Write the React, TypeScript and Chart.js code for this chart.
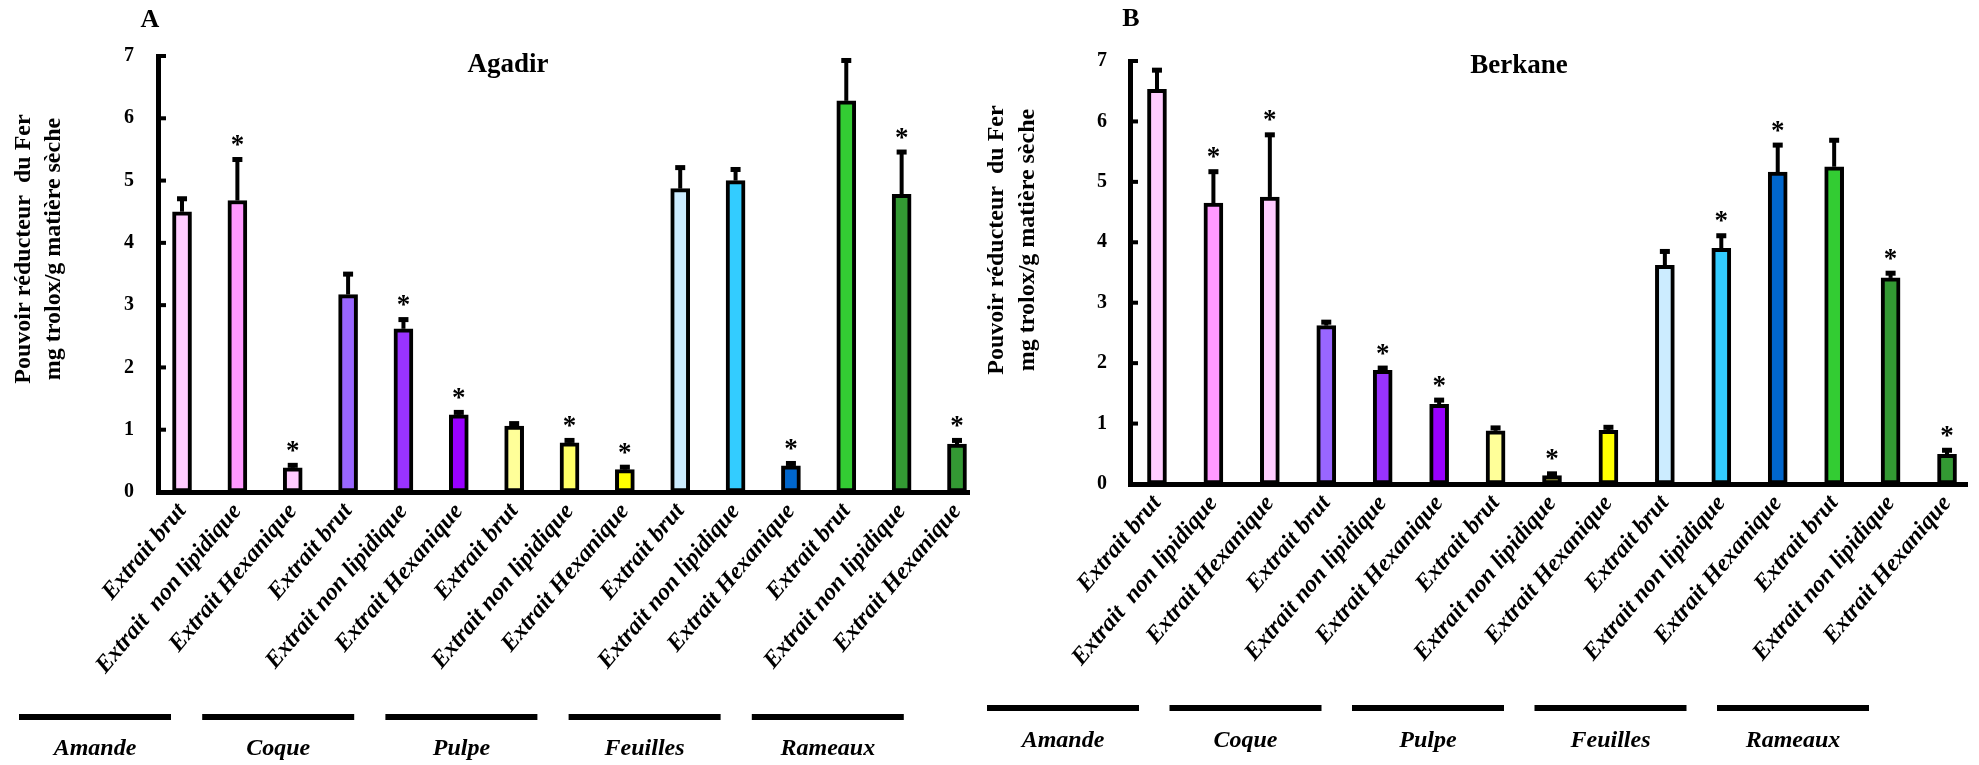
import React, { useEffect, useRef } from 'react';
import { Chart, registerables } from 'chart.js';

Chart.register(...registerables);

// ---------- data ----------
const categories = [
  'Extrait brut', 'Extrait  non lipidique', 'Extrait Hexanique',
  'Extrait brut', 'Extrait non lipidique', 'Extrait Hexanique',
  'Extrait brut', 'Extrait non lipidique', 'Extrait Hexanique',
  'Extrait brut', 'Extrait non lipidique', 'Extrait Hexanique',
  'Extrait brut', 'Extrait non lipidique', 'Extrait Hexanique',
];
const groups = ['Amande', 'Coque', 'Pulpe', 'Feuilles', 'Rameaux'];
const yTicks = [0, 1, 2, 3, 4, 5, 6, 7];

const agadirValues = [4.5, 4.68, 0.39, 3.17, 2.62, 1.24, 1.06, 0.79, 0.36, 4.87, 5.0, 0.42, 6.28, 4.78, 0.77];
const agadirErrors = [0.2, 0.65, 0.03, 0.32, 0.14, 0.03, 0.03, 0.03, 0.03, 0.33, 0.17, 0.03, 0.64, 0.67, 0.05];
const agadirSignificant = [0, 1, 1, 0, 1, 1, 0, 1, 1, 0, 0, 1, 0, 1, 1];

const berkaneValues = [6.53, 4.65, 4.75, 2.62, 1.88, 1.32, 0.88, 0.14, 0.89, 3.62, 3.9, 5.16, 5.25, 3.41, 0.49];
const berkaneErrors = [0.31, 0.51, 1.02, 0.05, 0.03, 0.06, 0.04, 0.02, 0.04, 0.22, 0.2, 0.44, 0.43, 0.07, 0.06];
const berkaneSignificant = [0, 1, 1, 0, 1, 1, 0, 1, 0, 0, 1, 1, 0, 1, 1];

const agadirColors = ['#FFCCFF', '#FF99FF', '#FFCCFF', '#9966FF', '#9933FF', '#9900FF', '#FFFF99', '#FFFF66', '#FFFF00', '#CCECFF', '#33CCFF', '#0066CC', '#33CC33', '#339933', '#339933'];
const berkaneColors = ['#FFCCFF', '#FF99FF', '#FFCCFF', '#9966FF', '#9933FF', '#9900FF', '#FFFF99', '#9A9A3A', '#FFFF00', '#CCECFF', '#33CCFF', '#0066CC', '#33CC33', '#339933', '#339933'];

const yTitle = ['Pouvoir réducteur  du Fer', 'mg trolox/g matière sèche'];

const SERIF = '"Liberation Serif", "Times New Roman", serif';

type Panel = {
  letter: string;
  title: string;
  values: number[];
  errors: number[];
  sig: number[];
  colors: string[];
  width: number;
  left: number;
  right: number;
  top: number;
  bottom: number;
  xMin: number;
  xMax: number;
  tickPad: number;
  titleX: number;
  titleY: number;
  letterX: number;
  letterY: number;
  yTitleX: [number, number];
  yTitleY: number;
  groupStart: number;
  groupStep: number;
  lineY: number;
  labelY: number;
};

const H = 765;

const panelA: Panel = {
  letter: 'A', title: 'Agadir',
  values: agadirValues, errors: agadirErrors, sig: agadirSignificant, colors: agadirColors,
  width: 975, left: 158, right: 969, top: 56, bottom: 492,
  xMin: -0.434, xMax: 14.217, tickPad: 24,
  titleX: 508, titleY: 65, letterX: 150, letterY: 20,
  yTitleX: [24, 54], yTitleY: 249,
  groupStart: 95, groupStep: 183.2, lineY: 717, labelY: 749,
};

const panelB: Panel = {
  letter: 'B', title: 'Berkane',
  values: berkaneValues, errors: berkaneErrors, sig: berkaneSignificant, colors: berkaneColors,
  width: 1004, left: 155, right: 992, top: 61, bottom: 484,
  xMin: -0.478, xMax: 14.354, tickPad: 23,
  titleX: 544, titleY: 66, letterX: 156, letterY: 19,
  yTitleX: [22, 53], yTitleY: 240,
  groupStart: 88, groupStep: 182.5, lineY: 708, labelY: 741,
};

function makeChart(canvas: HTMLCanvasElement, p: Panel) {
  const decor = {
    id: 'decor',
    afterDatasetsDraw(chart: any) {
      const ctx: CanvasRenderingContext2D = chart.ctx;
      const y = chart.scales.y;
      const area = chart.chartArea;
      const meta = chart.getDatasetMeta(0);
      ctx.save();
      ctx.fillStyle = '#000';
      ctx.strokeStyle = '#000';
      // error bars + significance stars
      meta.data.forEach((bar: any, i: number) => {
        const v = p.values[i];
        const e = p.errors[i];
        const yb = y.getPixelForValue(v);
        const yt = y.getPixelForValue(v + e);
        ctx.lineWidth = 4;
        ctx.beginPath();
        ctx.moveTo(bar.x, yb);
        ctx.lineTo(bar.x, yt - 1);
        ctx.stroke();
        ctx.fillRect(bar.x - 5, yt - 3, 10, 5);
        if (p.sig[i]) {
          ctx.font = `bold 27px ${SERIF}`;
          ctx.textAlign = 'center';
          ctx.textBaseline = 'alphabetic';
          ctx.fillText('*', bar.x, yt - 7);
        }
      });
      // inward y ticks
      yTicks.forEach((t) => {
        if (t === 0) return;
        const py = y.getPixelForValue(t);
        ctx.fillRect(area.left, py - 2, 8, 4);
      });
      ctx.restore();
    },
    afterDraw(chart: any) {
      const ctx: CanvasRenderingContext2D = chart.ctx;
      ctx.save();
      ctx.fillStyle = '#000';
      // panel letter
      ctx.font = `bold 26px ${SERIF}`;
      ctx.textAlign = 'center';
      ctx.textBaseline = 'middle';
      ctx.fillText(p.letter, p.letterX, p.letterY);
      // title
      ctx.font = `bold 27px ${SERIF}`;
      ctx.fillText(p.title, p.titleX, p.titleY);
      // y title
      ctx.font = `bold 24px ${SERIF}`;
      yTitle.forEach((line, k) => {
        ctx.save();
        ctx.translate(p.yTitleX[k], p.yTitleY);
        ctx.rotate(-Math.PI / 2);
        ctx.fillText(line, 0, 0);
        ctx.restore();
      });
      // group underline + names
      ctx.font = `italic bold 24px ${SERIF}`;
      groups.forEach((g, k) => {
        const cx = p.groupStart + k * p.groupStep;
        ctx.fillRect(cx - 76, p.lineY - 3, 152, 6);
        ctx.fillText(g, cx, p.labelY);
      });
      ctx.restore();
    },
  };

  return new Chart(canvas, {
    type: 'bar',
    data: {
      datasets: [
        {
          data: p.values.map((v, i) => ({ x: i, y: v })),
          backgroundColor: p.colors,
          borderColor: '#000',
          borderWidth: 4,
          borderSkipped: false,
          barThickness: 19,
        } as any,
      ],
    },
    options: {
      animation: false,
      responsive: false,
      events: [],
      layout: { padding: { left: 0, right: p.width - p.right, top: p.top, bottom: 0 } },
      scales: {
        x: {
          type: 'linear',
          min: p.xMin,
          max: p.xMax,
          offset: false,
          grid: { display: false, drawTicks: false, offset: false },
          border: { display: true, color: '#000', width: 5 },
          afterBuildTicks: (ax: any) => {
            ax.ticks = categories.map((_, i) => ({ value: i }));
          },
          afterFit: (s: any) => {
            s.height = H - p.bottom;
            s.paddingLeft = 0;
            s.paddingRight = 0;
          },
          ticks: {
            autoSkip: false,
            minRotation: 50,
            maxRotation: 50,
            padding: 6,
            color: '#000',
            font: { family: SERIF, size: 24, weight: 'bold', style: 'italic' },
            callback: (v: any) => categories[Math.round(Number(v))] ?? '',
          },
        } as any,
        y: {
          min: 0,
          max: 7,
          grid: { display: false, drawTicks: false },
          border: { display: true, color: '#000', width: 5 },
          afterBuildTicks: (ax: any) => {
            ax.ticks = yTicks.map((t) => ({ value: t }));
          },
          afterFit: (s: any) => {
            s.width = p.left;
            s.paddingTop = 0;
            s.paddingBottom = 0;
          },
          ticks: {
            padding: p.tickPad,
            color: '#000',
            font: { family: SERIF, size: 20, weight: 'bold' },
          },
        } as any,
      },
      plugins: {
        legend: { display: false },
        tooltip: { enabled: false },
        title: { display: false },
      },
    },
    plugins: [decor],
  });
}

function PanelChart({ p, x }: { p: Panel; x: number }) {
  const ref = useRef<HTMLCanvasElement | null>(null);
  useEffect(() => {
    if (!ref.current) return;
    const c = makeChart(ref.current, p);
    return () => c.destroy();
  }, [p]);
  return (
    <canvas
      ref={ref}
      width={p.width}
      height={H}
      style={{ position: 'absolute', left: x, top: 0, width: p.width, height: H }}
    />
  );
}

export default function App() {
  return (
    <div style={{ position: 'absolute', left: 0, top: 0, width: 1979, height: H, background: '#fff', overflow: 'hidden' }}>
      <PanelChart p={panelA} x={0} />
      <PanelChart p={panelB} x={975} />
    </div>
  );
}
